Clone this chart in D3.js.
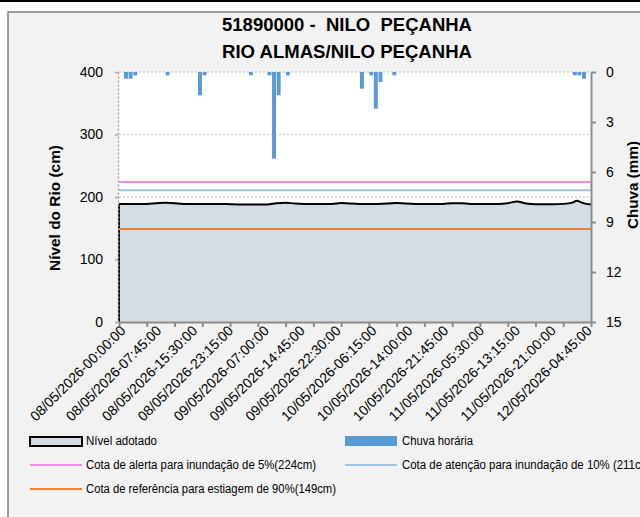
<!DOCTYPE html>
<html><head><meta charset="utf-8">
<script src="https://cdn.jsdelivr.net/npm/d3@7"></script>
<style>
body{margin:0;background:#fff}
svg{display:block}
text{font-family:"Liberation Sans",Arial,sans-serif;white-space:pre}
</style>
</head><body>
<svg id="c" width="640" height="517"></svg>
<script>
// ---------------- DATA ----------------
const titleLines = ["51890000 -  NILO  PEÇANHA", "RIO ALMAS/NILO PEÇANHA"];
const axisTitleLeft = "Nível do Rio (cm)";
const axisTitleRight = "Chuva (mm)";
const startTime = "08/05/2026-00:00:00";
const endTime = "12/05/2026-06:00:00";

// river level (cm), hours since start
const levelHours  = [0,2,4,6,8,10,12,14,16,18,20,22,24,26,28,30,32,34,36,38,40,42,44,46,48,50,52,54,56,58,60,62,64,66,68,70,72,74,76,78,80,82,84,86,88,90,92,94,96,98,99,100,101,102];
const levelValues = [189,189,189,189,190,191,190,189,189,189,189,189,188.5,188,188,188,188,190,191,189.5,189,189,189,189,190.5,189.5,189,189,189,189.5,190.5,189.5,189,189,189,189,190,190,189,189,189,189,190,193,189.5,188.5,188.5,188.5,189,191,194,191,189,188];

// hourly rain (mm), hour index since start (only non-zero hours)
const rainHours  = [1,2,3,10,17,18,28,32,33,34,36,52,54,55,56,59,98,99,100];
const rainValues = [0.4,0.4,0.2,0.2,1.4,0.2,0.2,0.2,5.2,1.4,0.2,1.0,0.2,2.2,0.6,0.2,0.2,0.2,0.4];
const rainHourCount = 102;

// reference levels
const refNames  = ["Cota de alerta para inundação de 5%(224cm)", "Cota de atenção para inundação de 10% (211cm)", "Cota de referência para estiagem de 90%(149cm)"];
const refValues = [224, 211, 149];
const refColors = ["#ec8cec", "#9dc3e6", "#ed7d31"];

const levelTicks = [0,100,200,300,400];
const rainTicks  = [0,3,6,9,12,15];
const xTickLabels = ["08/05/2026-00:00:00","08/05/2026-07:45:00","08/05/2026-15:30:00","08/05/2026-23:15:00",
  "09/05/2026-07:00:00","09/05/2026-14:45:00","09/05/2026-22:30:00","10/05/2026-06:15:00","10/05/2026-14:00:00",
  "10/05/2026-21:45:00","11/05/2026-05:30:00","11/05/2026-13:15:00","11/05/2026-21:00:00","12/05/2026-04:45:00"];

// ---------------- CHART ----------------
const svg = d3.select("#c");
const parse = d3.utcParse("%d/%m/%Y-%H:%M:%S");
const t0 = parse(startTime), t1 = parse(endTime);
const L = 119, R = 591, T = 72, B = 322;

const x = d3.scaleUtc().domain([t0, t1]).range([L, R]);
const yL = d3.scaleLinear().domain([0, 400]).range([B, T]);
const yR = d3.scaleLinear().domain([0, 15]).range([T, B]);
const xb = d3.scaleBand().domain(d3.range(rainHourCount)).range([L, R]).paddingInner(0.14).paddingOuter(0.07);

// top dark strip & chart frame
svg.append("rect").attr("x",0).attr("y",0).attr("width",640).attr("height",2).attr("fill","#000");
svg.append("rect").attr("x",8).attr("y",12).attr("width",700).attr("height",520)
  .attr("fill","#f2f2f2").attr("stroke","#7f7f7f").attr("stroke-width",1.5);

// title
svg.selectAll("text.title").data(titleLines).join("text").attr("class","title")
  .attr("x",347).attr("y",(d,i)=>31+i*27).attr("text-anchor","middle")
  .attr("font-weight","bold").attr("font-size",17.5).attr("fill","#000")
  .attr("textLength",250).attr("lengthAdjust","spacingAndGlyphs").text(d=>d);

// plot background
svg.append("rect").attr("x",L).attr("y",T).attr("width",R-L).attr("height",B-T).attr("fill","#fff");

// gridlines
svg.append("g").selectAll("line").data(levelTicks.filter(d=>d>0)).join("line")
  .attr("x1",L).attr("x2",R).attr("y1",d=>yL(d)).attr("y2",d=>yL(d))
  .attr("stroke","#d0d0d0").attr("stroke-width",1.5).attr("stroke-dasharray","2,2");

// level area
const pts = levelHours.map((h,i)=>({t:d3.utcHour.offset(t0,h), v:levelValues[i]}));
const area = d3.area().x(d=>x(d.t)).y0(yL(0)).y1(d=>yL(d.v)).curve(d3.curveMonotoneX);
svg.append("path").datum(pts).attr("d",area).attr("fill","#d6dce4");
const outline = d3.line().x(d=>x(d.t)).y(d=>yL(d.v)).curve(d3.curveMonotoneX);
svg.append("path").attr("d",d3.line().x(d=>x(d.t)).y(d=>yL(d.v))([{t:t0,v:0},pts[0]]))
  .attr("fill","none").attr("stroke","#000").attr("stroke-width",2);
svg.append("path").datum(pts).attr("d",outline).attr("fill","none").attr("stroke","#000").attr("stroke-width",2);

// reference lines
svg.append("g").selectAll("line").data(refValues).join("line")
  .attr("x1",L).attr("x2",R).attr("y1",d=>yL(d)).attr("y2",d=>yL(d))
  .attr("stroke",(d,i)=>refColors[i]).attr("stroke-width",2);

// rain bars
svg.append("g").selectAll("rect").data(rainHours.map((h,i)=>({h, v:rainValues[i]}))).join("rect")
  .attr("x",d=>xb(d.h)).attr("width",xb.bandwidth())
  .attr("y",yR(0)).attr("height",d=>yR(d.v)-yR(0)).attr("fill","#5b9bd5");

// left axis (dotted)
const gl = svg.append("g").attr("transform",`translate(${L-1},0)`)
  .call(d3.axisLeft(yL).tickValues(levelTicks).tickSize(3).tickPadding(12).tickSizeOuter(0));
gl.select(".domain").attr("stroke","#a6a6a6").attr("stroke-width",1.5).attr("stroke-dasharray","2,2");
gl.selectAll(".tick line").attr("stroke","#a6a6a6").attr("stroke-width",1.5);
gl.selectAll("text").attr("font-size",14).attr("fill","#000").attr("font-family","Liberation Sans, Arial, sans-serif");

// right axis
const gr = svg.append("g").attr("transform",`translate(${R},0)`)
  .call(d3.axisRight(yR).tickValues(rainTicks).tickSize(5).tickPadding(10).tickSizeOuter(0));
gr.select(".domain").attr("stroke","#8c8c8c").attr("stroke-width",2);
gr.selectAll(".tick line").attr("stroke","#8c8c8c").attr("stroke-width",2);
gr.selectAll("text").attr("font-size",14).attr("fill","#000").attr("font-family","Liberation Sans, Arial, sans-serif");

// bottom axis ticks every 6 hours
const gb = svg.append("g").attr("transform",`translate(0,${B})`)
  .call(d3.axisBottom(x).tickValues(d3.utcHour.every(6).range(t0, d3.utcMinute.offset(t1,1))).tickSize(5).tickFormat("").tickSizeOuter(0));
gb.select(".domain").attr("stroke","#8c8c8c").attr("stroke-width",2);
gb.selectAll(".tick line").attr("stroke","#8c8c8c").attr("stroke-width",2);

// bottom labels every 7:45
svg.append("g").selectAll("text").data(xTickLabels).join("text")
  .attr("transform",d=>`translate(${x(parse(d))+4},${B+6}) rotate(-45)`)
  .attr("text-anchor","end").attr("dy","0.35em").attr("font-size",14).attr("fill","#000")
  .attr("textLength",128).attr("lengthAdjust","spacingAndGlyphs").text(d=>d);

// axis titles
svg.append("text").attr("transform","translate(60,208) rotate(-90)").attr("text-anchor","middle")
  .attr("font-weight","bold").attr("font-size",14.5).attr("textLength",126).attr("lengthAdjust","spacingAndGlyphs").text(axisTitleLeft);
svg.append("text").attr("transform","translate(638,185) rotate(-90)").attr("text-anchor","middle")
  .attr("font-weight","bold").attr("font-size",14.5).attr("textLength",88).attr("lengthAdjust","spacingAndGlyphs").text(axisTitleRight);

// legend
const lg = svg.append("g").attr("font-size",12.5).attr("fill","#000");
lg.append("rect").attr("x",30).attr("y",437).attr("width",52).attr("height",9).attr("fill","#d6dce4").attr("stroke","#000").attr("stroke-width",2);
lg.append("text").attr("x",86).attr("y",441).attr("dy","0.35em").attr("textLength",71).attr("lengthAdjust","spacingAndGlyphs").text("Nível adotado");
lg.append("rect").attr("x",345).attr("y",436).attr("width",52).attr("height",10).attr("fill","#5b9bd5");
lg.append("text").attr("x",402).attr("y",441).attr("dy","0.35em").attr("textLength",71).attr("lengthAdjust","spacingAndGlyphs").text("Chuva horária");
const legPos = [[30,86,465,230],[345,402,465,252],[30,86,489,250]];
refNames.forEach((n,i)=>{
  const [lx,tx,ly,tl] = legPos[i];
  lg.append("line").attr("x1",lx).attr("x2",lx+52).attr("y1",ly).attr("y2",ly).attr("stroke",refColors[i]).attr("stroke-width",2);
  lg.append("text").attr("x",tx).attr("y",ly).attr("dy","0.35em").attr("textLength",tl).attr("lengthAdjust","spacingAndGlyphs").text(n);
});
</script>
</body></html>
